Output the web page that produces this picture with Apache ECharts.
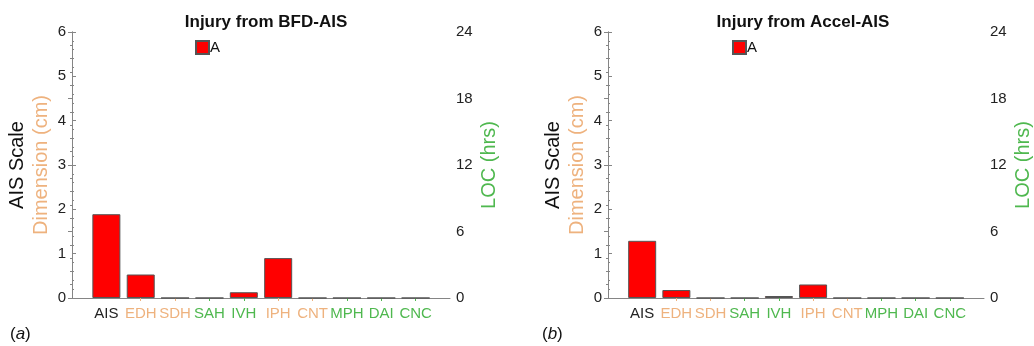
<!DOCTYPE html>
<html>
<head>
<meta charset="utf-8">
<script src="https://cdn.jsdelivr.net/npm/echarts@6/dist/echarts.min.js"></script>
<style>
html,body{margin:0;padding:0;background:#fff;}
#chart{width:1034px;height:346px;}
</style>
</head>
<body>
<div id="chart"></div>
<script>
// ---- data ----
const categories = ['AIS','EDH','SDH','SAH','IVH','IPH','CNT','MPH','DAI','CNC'];
const categoryGroup = ['k','o','o','g','g','o','o','g','g','g'];
const bfdValues = [1.89, 0.53, 0, 0, 0.13, 0.90, 0, 0, 0, 0];
const accelValues = [1.29, 0.18, 0, 0, 0.045, 0.305, 0, 0, 0, 0];
const panelTitles = ['Injury from BFD-AIS', 'Injury from Accel-AIS'];
const panelTags = ['a', 'b'];
const seriesName = 'A';
const leftAxisTicks = [0, 6, 1];   // min, max, interval
const rightAxisTicks = [0, 24, 6];

// ---- style ----
const FONT = "'Liberation Sans', Arial, Helvetica, sans-serif";
const ORANGE = '#EEB27E';
const GREEN = '#4FB84F';
const AXIS_GRAY = '#858585';
const groupColor = {k:'#222', o:ORANGE, g:GREEN};
const TICK_FS = 15;
const NAME_FS = 20;

const grids = [
  {left:72, right:584, top:32, bottom:48},
  {left:608, right:46, top:32, bottom:48}
];
const legendLeft = [195, 732];
const titleCenter = [261, 798];
const tagLeft = [10, 542];

const chart = echarts.init(document.getElementById('chart'), null, {renderer:'canvas'});

const xAxes = [], yAxes = [], series = [], titles = [], legends = [], graphics = [];
const allValues = [bfdValues, accelValues];

grids.forEach((g, gi) => {
  xAxes.push({
    type:'value', gridIndex:gi, min:0, max:categories.length+1, interval:1,
    axisLine:{show:true, onZero:false, lineStyle:{color:AXIS_GRAY, width:1}},
    axisTick:{show:false},
    splitLine:{show:false},
    axisLabel:{
      margin:8, fontFamily:FONT, fontSize:TICK_FS,
      formatter:(v)=>{
        const i = Math.round(v)-1;
        if (i<0 || i>=categories.length) return '';
        return '{' + categoryGroup[i] + '|' + categories[i] + '}';
      },
      rich:{
        k:{color:groupColor.k, fontFamily:FONT, fontSize:TICK_FS},
        o:{color:groupColor.o, fontFamily:FONT, fontSize:TICK_FS},
        g:{color:groupColor.g, fontFamily:FONT, fontSize:TICK_FS}
      }
    }
  });
  ['o','g'].forEach(grp => {
    const vals = [];
    categoryGroup.forEach((c,i)=>{ if(c===grp) vals.push(i+1); });
    xAxes.push({
      type:'value', gridIndex:gi, min:0, max:categories.length+1,
      axisLine:{show:false}, axisLabel:{show:false}, splitLine:{show:false},
      axisTick:{show:true, inside:true, length:3, customValues:vals, lineStyle:{color:groupColor[grp], width:1}}
    });
  });

  yAxes.push({
    type:'value', gridIndex:gi, position:'left',
    min:leftAxisTicks[0], max:leftAxisTicks[1], interval:leftAxisTicks[2],
    name:'{a|AIS Scale}\n{b|Dimension (cm)}',
    nameLocation:'middle', nameRotate:90, nameGap:14,
    nameTextStyle:{
      fontFamily:FONT, lineHeight:24,
      rich:{
        a:{color:'#111', fontSize:NAME_FS, fontFamily:FONT, lineHeight:24},
        b:{color:ORANGE, fontSize:NAME_FS, fontFamily:FONT, lineHeight:24}
      }
    },
    axisLine:{show:true, lineStyle:{color:AXIS_GRAY}},
    axisTick:{show:true, inside:true, length:4, lineStyle:{color:AXIS_GRAY}},
    minorTick:{show:true, splitNumber:5, length:2, lineStyle:{color:AXIS_GRAY}},
    splitLine:{show:false},
    axisLabel:{color:'#222', fontFamily:FONT, fontSize:TICK_FS, margin:6}
  });
  yAxes.push({
    type:'value', gridIndex:gi, position:'right',
    min:rightAxisTicks[0], max:rightAxisTicks[1], interval:rightAxisTicks[2],
    name:'LOC (hrs)', nameLocation:'middle', nameRotate:90, nameGap:29,
    nameTextStyle:{color:GREEN, fontFamily:FONT, fontSize:NAME_FS},
    axisLine:{show:true, lineStyle:{color:AXIS_GRAY}},
    axisTick:{show:true, inside:true, length:4, lineStyle:{color:AXIS_GRAY}},
    minorTick:{show:true, splitNumber:5, length:2, lineStyle:{color:AXIS_GRAY}},
    splitLine:{show:false},
    axisLabel:{color:'#222', fontFamily:FONT, fontSize:TICK_FS, margin:6}
  });

  series.push({
    type:'bar', name:seriesName,
    xAxisIndex:gi*3, yAxisIndex:gi*2,
    barWidth:28,
    itemStyle:{color:'#FF0000', borderColor:'#555', borderWidth:1},
    data:allValues[gi].map((v,i)=>[i+1, v]),
    animation:false
  });

  titles.push({
    text:panelTitles[gi], left:titleCenter[gi], top:9, textAlign:'center',
    textStyle:{fontFamily:FONT, fontSize:17, fontWeight:'bold', color:'#111'}
  });
  legends.push({
    data:[seriesName], left:legendLeft[gi], top:40, padding:0,
    icon:'rect', itemWidth:13, itemHeight:13, itemGap:2,
    textStyle:{fontFamily:FONT, fontSize:15, color:'#111', padding:[0,0,0,-4]}
  });
  graphics.push({
    type:'text', left:tagLeft[gi], top:326,
    style:{
      text:'({i|' + panelTags[gi] + '})',
      font:'17px ' + FONT, fill:'#111',
      rich:{i:{fontStyle:'italic', fontSize:17, fontFamily:FONT, fill:'#111'}}
    }
  });
});

chart.setOption({
  backgroundColor:'#fff',
  animation:false,
  title:titles,
  legend:legends,
  grid:grids,
  xAxis:xAxes,
  yAxis:yAxes,
  series:series,
  graphic:graphics
});
</script>
</body>
</html>
